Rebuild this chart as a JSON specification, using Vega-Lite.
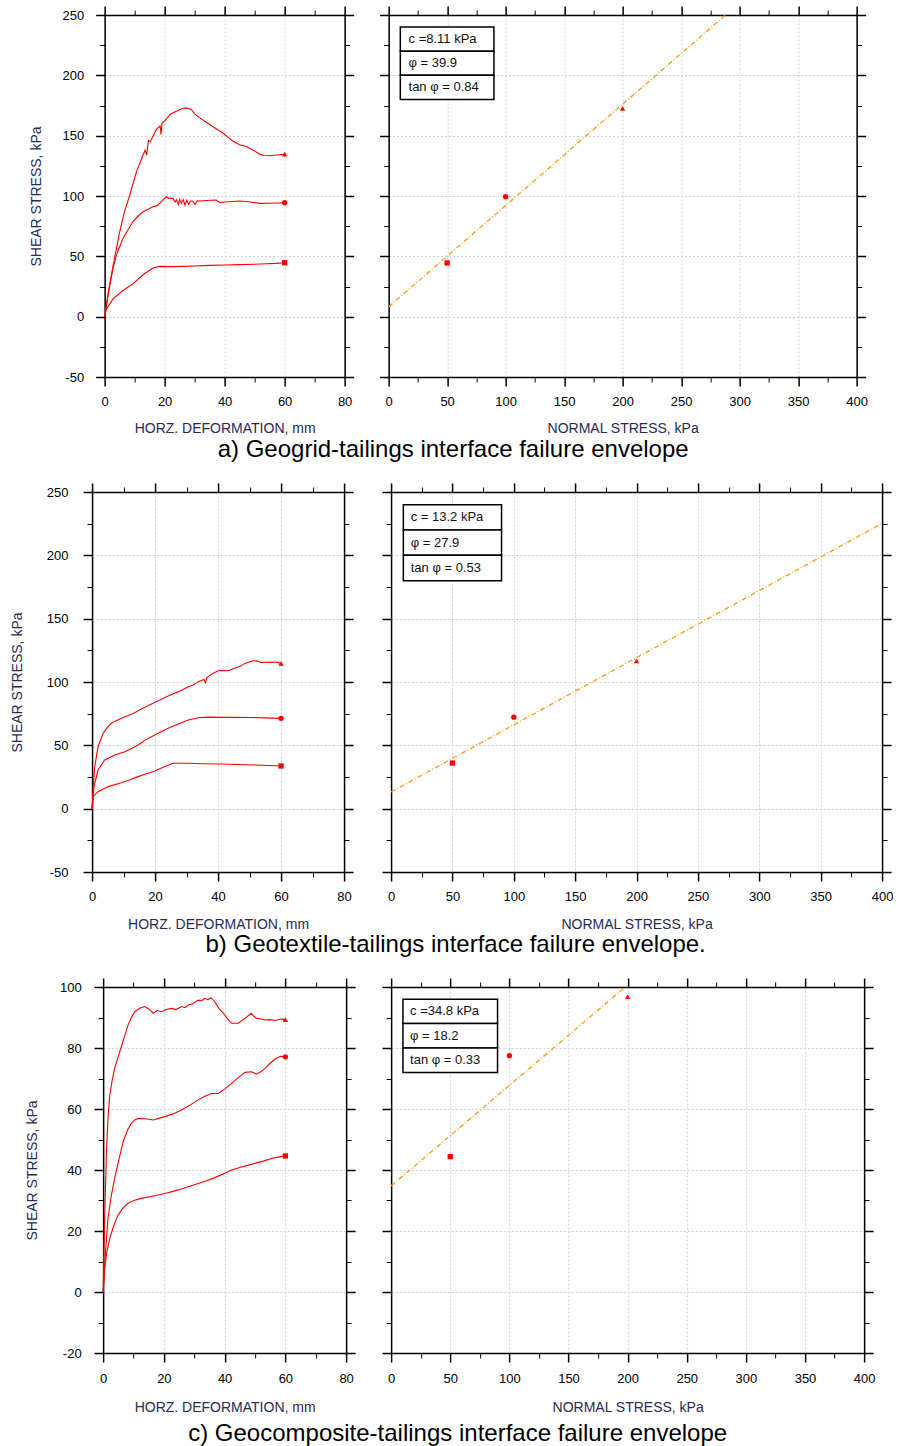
{
"$schema": "https://vega.github.io/schema/vega-lite/v6.json",
"background": "white",
"padding": {"left": 10, "top": 5, "right": 5, "bottom": 5},
"datasets": {
"curvesA": [
{"s":"200","d":0,"t":0},{"s":"200","d":1.2,"t":20},{"s":"200","d":2.8,"t":42},{"s":"200","d":5,"t":70},{"s":"200","d":6.5,"t":86},{"s":"200","d":8.3,"t":100},{"s":"200","d":10.6,"t":120},{"s":"200","d":12.8,"t":134},{"s":"200","d":13.5,"t":138},{"s":"200","d":14,"t":134},{"s":"200","d":14.6,"t":146},{"s":"200","d":15.2,"t":145},{"s":"200","d":17.2,"t":155},{"s":"200","d":18.5,"t":158},{"s":"200","d":18.8,"t":151},{"s":"200","d":19.1,"t":160},{"s":"200","d":20.6,"t":164},{"s":"200","d":22,"t":168},{"s":"200","d":23.9,"t":170.3},{"s":"200","d":26,"t":172.5},{"s":"200","d":27.2,"t":173},{"s":"200","d":28.9,"t":171.7},{"s":"200","d":30,"t":168},{"s":"200","d":31.7,"t":164.7},{"s":"200","d":35,"t":159.2},{"s":"200","d":39.4,"t":152.2},{"s":"200","d":42.8,"t":145.3},{"s":"200","d":45,"t":142.5},{"s":"200","d":47.2,"t":141.1},{"s":"200","d":49.5,"t":138},{"s":"200","d":51.7,"t":134.7},{"s":"200","d":53,"t":133.5},{"s":"200","d":55,"t":133.3},{"s":"200","d":58.3,"t":134.2},{"s":"200","d":60,"t":134.7},
{"s":"100","d":0,"t":0},{"s":"100","d":0.8,"t":12},{"s":"100","d":1.7,"t":25.8},{"s":"100","d":2.8,"t":40},{"s":"100","d":3.9,"t":50.8},{"s":"100","d":5,"t":58},{"s":"100","d":6.1,"t":64.7},{"s":"100","d":7.8,"t":72},{"s":"100","d":9.4,"t":78.6},{"s":"100","d":11,"t":83},{"s":"100","d":12.8,"t":86.9},{"s":"100","d":14.5,"t":89},{"s":"100","d":16.1,"t":91.1},{"s":"100","d":17.5,"t":92},{"s":"100","d":18.9,"t":95.3},{"s":"100","d":20,"t":98},{"s":"100","d":20.6,"t":99.4},{"s":"100","d":21.5,"t":98},{"s":"100","d":22.8,"t":98},{"s":"100","d":23.5,"t":95},{"s":"100","d":24,"t":97},{"s":"100","d":24.6,"t":93},{"s":"100","d":25,"t":97},{"s":"100","d":25.6,"t":94},{"s":"100","d":26.2,"t":97},{"s":"100","d":26.8,"t":92.5},{"s":"100","d":27.4,"t":96.5},{"s":"100","d":28,"t":93},{"s":"100","d":28.6,"t":96},{"s":"100","d":29.5,"t":95.5},{"s":"100","d":30.2,"t":93},{"s":"100","d":30.8,"t":96},{"s":"100","d":31.7,"t":95.8},{"s":"100","d":34,"t":96.3},{"s":"100","d":37.2,"t":96.7},{"s":"100","d":38.3,"t":94.7},{"s":"100","d":40,"t":95},{"s":"100","d":45,"t":95.8},{"s":"100","d":48,"t":95.2},{"s":"100","d":51.7,"t":93.9},{"s":"100","d":55,"t":94},{"s":"100","d":60,"t":94.4},
{"s":"50","d":0,"t":0},{"s":"50","d":0.6,"t":6.4},{"s":"50","d":2.8,"t":14.7},{"s":"50","d":6.1,"t":21.7},{"s":"50","d":9.4,"t":27.2},{"s":"50","d":12.8,"t":34.7},{"s":"50","d":16.1,"t":40.3},{"s":"50","d":18.3,"t":41.7},{"s":"50","d":22,"t":41.5},{"s":"50","d":26.1,"t":41.7},{"s":"50","d":30,"t":42},{"s":"50","d":35,"t":42.5},{"s":"50","d":40,"t":42.8},{"s":"50","d":45,"t":43.1},{"s":"50","d":50,"t":43.5},{"s":"50","d":53.9,"t":43.9},{"s":"50","d":57,"t":44.2},{"s":"50","d":60,"t":44.7}
],
"curvesB": [
{"s":"200","d":0,"t":0},{"s":"200","d":0.3,"t":14.7},{"s":"200","d":0.85,"t":33.2},{"s":"200","d":1.9,"t":48.9},{"s":"200","d":3.5,"t":59.5},{"s":"200","d":4.8,"t":64},{"s":"200","d":6.1,"t":67.4},{"s":"200","d":7.7,"t":69.5},{"s":"200","d":9.3,"t":71.3},{"s":"200","d":11.5,"t":73.5},{"s":"200","d":13.5,"t":75.8},{"s":"200","d":15.5,"t":78.5},{"s":"200","d":17.8,"t":81.3},{"s":"200","d":20,"t":84},{"s":"200","d":22,"t":86.3},{"s":"200","d":24,"t":88.7},{"s":"200","d":26.2,"t":91.1},{"s":"200","d":28.5,"t":93.5},{"s":"200","d":30.5,"t":96.3},{"s":"200","d":32,"t":97.5},{"s":"200","d":33.7,"t":100.3},{"s":"200","d":35.5,"t":102},{"s":"200","d":36,"t":99.5},{"s":"200","d":36.4,"t":103.5},{"s":"200","d":37.9,"t":106.1},{"s":"200","d":40,"t":108.9},{"s":"200","d":41.5,"t":109},{"s":"200","d":43.2,"t":108.9},{"s":"200","d":45.3,"t":110.8},{"s":"200","d":47,"t":112.5},{"s":"200","d":48.5,"t":114.7},{"s":"200","d":51.1,"t":116.8},{"s":"200","d":52.5,"t":116.5},{"s":"200","d":53.8,"t":115.3},{"s":"200","d":55.5,"t":115.8},{"s":"200","d":56.9,"t":115.5},{"s":"200","d":58.5,"t":115.8},{"s":"200","d":60,"t":114.7},
{"s":"100","d":0,"t":0},{"s":"100","d":0.6,"t":17.4},{"s":"100","d":1.9,"t":30.5},{"s":"100","d":4,"t":38.4},{"s":"100","d":7.2,"t":42.4},{"s":"100","d":10.4,"t":45},{"s":"100","d":12.5,"t":47.5},{"s":"100","d":14.6,"t":50.3},{"s":"100","d":17,"t":54.3},{"s":"100","d":19.9,"t":58.2},{"s":"100","d":22.5,"t":61.6},{"s":"100","d":25.2,"t":64.7},{"s":"100","d":28,"t":67.5},{"s":"100","d":30.5,"t":70},{"s":"100","d":33.7,"t":71.8},{"s":"100","d":37,"t":72.3},{"s":"100","d":41.1,"t":72.1},{"s":"100","d":45,"t":72.2},{"s":"100","d":50,"t":72},{"s":"100","d":55,"t":71.7},{"s":"100","d":60,"t":71.3},
{"s":"50","d":0,"t":0},{"s":"50","d":0.3,"t":9.5},{"s":"50","d":1.9,"t":13.4},{"s":"50","d":5.1,"t":17.4},{"s":"50","d":9.3,"t":20.5},{"s":"50","d":12,"t":22.8},{"s":"50","d":14.6,"t":25.3},{"s":"50","d":17.3,"t":27.5},{"s":"50","d":19.9,"t":29.7},{"s":"50","d":23.1,"t":33.2},{"s":"50","d":25.7,"t":35.8},{"s":"50","d":28,"t":35.9},{"s":"50","d":30.5,"t":35.8},{"s":"50","d":35,"t":35.5},{"s":"50","d":41.1,"t":35.3},{"s":"50","d":46,"t":34.9},{"s":"50","d":51.6,"t":34.5},{"s":"50","d":56,"t":34.1},{"s":"50","d":60,"t":33.7}
],
"curvesC": [
{"s":"200","d":0,"t":0},{"s":"200","d":0.5,"t":24.2},{"s":"200","d":1.1,"t":46},{"s":"200","d":1.6,"t":57},{"s":"200","d":2.2,"t":64.6},{"s":"200","d":3,"t":69.5},{"s":"200","d":3.8,"t":73.3},{"s":"200","d":4.9,"t":77},{"s":"200","d":6,"t":80.4},{"s":"200","d":7.1,"t":84},{"s":"200","d":8.2,"t":87.5},{"s":"200","d":9.3,"t":90},{"s":"200","d":10.4,"t":91.9},{"s":"200","d":12,"t":93},{"s":"200","d":13.7,"t":93.6},{"s":"200","d":15,"t":92.8},{"s":"200","d":16.5,"t":91.4},{"s":"200","d":17.8,"t":92.3},{"s":"200","d":19.2,"t":91.9},{"s":"200","d":20.8,"t":92.6},{"s":"200","d":22.5,"t":93},{"s":"200","d":24,"t":92.6},{"s":"200","d":25.8,"t":93.6},{"s":"200","d":27,"t":93.2},{"s":"200","d":28,"t":94.1},{"s":"200","d":29.5,"t":94.5},{"s":"200","d":31.3,"t":95.7},{"s":"200","d":32.5,"t":95.5},{"s":"200","d":33.5,"t":96.3},{"s":"200","d":34.5,"t":95.8},{"s":"200","d":35.5,"t":96.5},{"s":"200","d":36.5,"t":95.5},{"s":"200","d":37.4,"t":94.1},{"s":"200","d":38.5,"t":92.5},{"s":"200","d":39.6,"t":91.4},{"s":"200","d":41,"t":89.5},{"s":"200","d":42.3,"t":88.1},{"s":"200","d":44.5,"t":88.1},{"s":"200","d":46.7,"t":89.7},{"s":"200","d":48.7,"t":91.4},{"s":"200","d":49.5,"t":90.5},{"s":"200","d":50.5,"t":89.7},{"s":"200","d":52,"t":89.5},{"s":"200","d":53.3,"t":89.2},{"s":"200","d":55,"t":89.3},{"s":"200","d":56.6,"t":89},{"s":"200","d":58.5,"t":89.5},{"s":"200","d":60,"t":89.3},
{"s":"100","d":0,"t":0},{"s":"100","d":0.8,"t":13.2},{"s":"100","d":1.6,"t":24.2},{"s":"100","d":2.6,"t":31},{"s":"100","d":3.8,"t":37.3},{"s":"100","d":5.2,"t":43.5},{"s":"100","d":6.6,"t":49.3},{"s":"100","d":8,"t":53},{"s":"100","d":9.3,"t":55.3},{"s":"100","d":10.4,"t":56.4},{"s":"100","d":11.5,"t":56.9},{"s":"100","d":14,"t":56.8},{"s":"100","d":16.5,"t":56.4},{"s":"100","d":18.5,"t":57},{"s":"100","d":20.3,"t":57.5},{"s":"100","d":23,"t":58.4},{"s":"100","d":25.8,"t":59.7},{"s":"100","d":28.5,"t":61.2},{"s":"100","d":31.3,"t":63},{"s":"100","d":33.5,"t":64.2},{"s":"100","d":35.7,"t":65.1},{"s":"100","d":37.9,"t":65.1},{"s":"100","d":40,"t":66.5},{"s":"100","d":42.3,"t":68.4},{"s":"100","d":44.5,"t":70.3},{"s":"100","d":46.7,"t":72},{"s":"100","d":48.9,"t":72.2},{"s":"100","d":50.5,"t":71.4},{"s":"100","d":52,"t":72.3},{"s":"100","d":53.3,"t":73.3},{"s":"100","d":55,"t":75},{"s":"100","d":56.6,"t":76.4},{"s":"100","d":58.3,"t":77.3},{"s":"100","d":60,"t":77.1},
{"s":"50","d":0,"t":0},{"s":"50","d":0.5,"t":7.8},{"s":"50","d":1.2,"t":13},{"s":"50","d":2.2,"t":17.6},{"s":"50","d":3.5,"t":21.8},{"s":"50","d":4.9,"t":25.2},{"s":"50","d":6.5,"t":27.5},{"s":"50","d":8.2,"t":29.1},{"s":"50","d":10.4,"t":30.1},{"s":"50","d":12.6,"t":30.7},{"s":"50","d":16.5,"t":31.5},{"s":"50","d":20.3,"t":32.3},{"s":"50","d":23,"t":33},{"s":"50","d":25.8,"t":33.8},{"s":"50","d":28.5,"t":34.7},{"s":"50","d":31.3,"t":35.6},{"s":"50","d":34,"t":36.5},{"s":"50","d":36.8,"t":37.5},{"s":"50","d":39.5,"t":38.7},{"s":"50","d":42.3,"t":40},{"s":"50","d":45,"t":40.8},{"s":"50","d":47.8,"t":41.6},{"s":"50","d":51.1,"t":42.5},{"s":"50","d":53,"t":43},{"s":"50","d":55.5,"t":43.8},{"s":"50","d":58,"t":44.3},{"s":"50","d":60,"t":44.6}
],
"peakA": [{"s":"50","sn":50,"t":44.5},{"s":"100","sn":100,"t":99.4},{"s":"200","sn":200,"t":172.6}],
"peakB": [{"s":"50","sn":50,"t":36},{"s":"100","sn":100,"t":72.2},{"s":"200","sn":200,"t":116.7}],
"peakC": [{"s":"50","sn":50,"t":44.4},{"s":"100","sn":100,"t":77.5},{"s":"200","sn":200,"t":96.8}],
"envA": [{"sn":0,"t":8.11},{"sn":288,"t":250}],
"envB": [{"sn":0,"t":13.2},{"sn":400,"t":225.2}],
"envC": [{"sn":0,"t":34.8},{"sn":198,"t":100}]
},
"spacing": 20,
"center": true,
"vconcat": [
{
"spacing": 44,
"bounds": "flush",
"title": {"text": "a) Geogrid-tailings interface failure envelope", "orient": "bottom", "anchor": "middle", "offset": 3, "dx": -2},
"hconcat": [
{
"width": 240, "height": 362,
"data": {"name": "curvesA"},
"layer": [
{"mark": {"type": "line", "color": "#ff0000", "strokeWidth": 1.1},
"encoding": {
"x": {"field": "d", "type": "quantitative", "scale": {"domain": [0, 80], "nice": false, "zero": false},
"axis": {"orient": "bottom", "values": [0,10,20,30,40,50,60,70,80], "labelExpr": "datum.value % 20 === 0 ? '' + datum.value : ''", "tickSize": {"condition": {"test": "datum.value % 20 === 0", "value": 9}, "value": 5}, "tickWidth": {"condition": {"test": "datum.value % 20 === 0", "value": 1.5}, "value": 1}, "grid": true, "gridOpacity": {"condition": {"test": "datum.value % 20 === 0", "value": 1}, "value": 0}, "labelPadding": 9, "title": "HORZ. DEFORMATION, mm", "titlePadding": 13}},
"y": {"field": "t", "type": "quantitative", "scale": {"domain": [-50, 250], "nice": false, "zero": false},
"axis": {"orient": "left", "values": [-50,-25,0,25,50,75,100,125,150,175,200,225,250], "labelExpr": "datum.value % 50 === 0 ? '' + datum.value : ''", "tickSize": {"condition": {"test": "datum.value % 50 === 0", "value": 9}, "value": 5}, "tickWidth": {"condition": {"test": "datum.value % 50 === 0", "value": 1.5}, "value": 1}, "grid": true, "gridOpacity": {"condition": {"test": "datum.value % 50 === 0", "value": 1}, "value": 0}, "labelPadding": 12, "title": "SHEAR STRESS, kPa", "titlePadding": 18}},
"detail": {"field": "s"}}},
{"transform": [{"filter": "datum.d >= 60"}],
"mark": {"type": "point", "filled": true, "color": "#ff0000", "size": 28, "opacity": 1},
"encoding": {
"x": {"field": "d", "type": "quantitative", "axis": {"orient": "top", "values": [0,10,20,30,40,50,60,70,80], "labels": false, "title": null, "grid": false, "tickSize": {"condition": {"test": "datum.value % 20 === 0", "value": 9}, "value": 5}, "tickWidth": {"condition": {"test": "datum.value % 20 === 0", "value": 1.5}, "value": 1}}},
"y": {"field": "t", "type": "quantitative", "axis": {"orient": "right", "values": [-50,-25,0,25,50,75,100,125,150,175,200,225,250], "labels": false, "title": null, "grid": false, "tickSize": {"condition": {"test": "datum.value % 50 === 0", "value": 9}, "value": 5}, "tickWidth": {"condition": {"test": "datum.value % 50 === 0", "value": 1.5}, "value": 1}}},
"shape": {"field": "s", "type": "nominal", "scale": {"domain": ["50","100","200"], "range": ["square","circle","triangle-up"]}, "legend": null}}}
],
"resolve": {"axis": {"x": "independent", "y": "independent"}}
},
{
"width": 468, "height": 362,
"layer": [
{"data": {"name": "envA"},
"mark": {"type": "line", "color": "#f5a623", "strokeWidth": 1.4, "strokeDash": [5,2,1,2], "clip": true},
"encoding": {
"x": {"field": "sn", "type": "quantitative", "scale": {"domain": [0, 400], "nice": false, "zero": false},
"axis": {"orient": "bottom", "values": [0,25,50,75,100,125,150,175,200,225,250,275,300,325,350,375,400], "labelExpr": "datum.value % 50 === 0 ? '' + datum.value : ''", "tickSize": {"condition": {"test": "datum.value % 50 === 0", "value": 9}, "value": 5}, "tickWidth": {"condition": {"test": "datum.value % 50 === 0", "value": 1.5}, "value": 1}, "grid": true, "gridOpacity": {"condition": {"test": "datum.value % 50 === 0", "value": 1}, "value": 0}, "labelPadding": 9, "title": "NORMAL STRESS, kPa", "titlePadding": 13}},
"y": {"field": "t", "type": "quantitative", "scale": {"domain": [-50, 250], "nice": false, "zero": false},
"axis": {"orient": "left", "values": [-50,-25,0,25,50,75,100,125,150,175,200,225,250], "labels": false, "title": null, "tickSize": {"condition": {"test": "datum.value % 50 === 0", "value": 9}, "value": 5}, "tickWidth": {"condition": {"test": "datum.value % 50 === 0", "value": 1.5}, "value": 1}, "grid": true, "gridOpacity": {"condition": {"test": "datum.value % 50 === 0", "value": 1}, "value": 0}}}}},
{"data": {"name": "peakA"},
"mark": {"type": "point", "filled": true, "color": "#ff0000", "size": 28, "opacity": 1},
"encoding": {
"x": {"field": "sn", "type": "quantitative", "axis": {"orient": "top", "values": [0,25,50,75,100,125,150,175,200,225,250,275,300,325,350,375,400], "labels": false, "title": null, "grid": false, "tickSize": {"condition": {"test": "datum.value % 50 === 0", "value": 9}, "value": 5}, "tickWidth": {"condition": {"test": "datum.value % 50 === 0", "value": 1.5}, "value": 1}}},
"y": {"field": "t", "type": "quantitative", "axis": {"orient": "right", "values": [-50,-25,0,25,50,75,100,125,150,175,200,225,250], "labels": false, "title": " ", "titlePadding": 0, "grid": false, "tickSize": {"condition": {"test": "datum.value % 50 === 0", "value": 9}, "value": 5}, "tickWidth": {"condition": {"test": "datum.value % 50 === 0", "value": 1.5}, "value": 1}}},
"shape": {"field": "s", "type": "nominal", "scale": {"domain": ["50","100","200"], "range": ["square","circle","triangle-up"]}, "legend": null}}},
{"data": {"values": [{}]}, "mark": {"type": "rect", "fill": "white", "stroke": "#000", "strokeWidth": 1.5},
"encoding": {"x": {"datum": 10, "type": "quantitative", "axis": null}, "x2": {"datum": 90}, "y": {"datum": 240, "type": "quantitative", "axis": null}, "y2": {"datum": 220}}},
{"data": {"values": [{}]}, "mark": {"type": "rect", "fill": "white", "stroke": "#000", "strokeWidth": 1.5},
"encoding": {"x": {"datum": 10, "type": "quantitative", "axis": null}, "x2": {"datum": 90}, "y": {"datum": 220, "type": "quantitative", "axis": null}, "y2": {"datum": 200}}},
{"data": {"values": [{}]}, "mark": {"type": "rect", "fill": "white", "stroke": "#000", "strokeWidth": 1.5},
"encoding": {"x": {"datum": 10, "type": "quantitative", "axis": null}, "x2": {"datum": 90}, "y": {"datum": 200, "type": "quantitative", "axis": null}, "y2": {"datum": 180}}},
{"data": {"values": [{}]}, "mark": {"type": "text", "align": "left", "baseline": "middle", "font": "Liberation Sans", "fontSize": 13, "color": "#111"},
"encoding": {"x": {"datum": 17, "type": "quantitative", "axis": null}, "y": {"datum": 230, "type": "quantitative", "axis": null}, "text": {"value": "c =8.11 kPa"}}},
{"data": {"values": [{}]}, "mark": {"type": "text", "align": "left", "baseline": "middle", "font": "Liberation Sans", "fontSize": 13, "color": "#111"},
"encoding": {"x": {"datum": 17, "type": "quantitative", "axis": null}, "y": {"datum": 210, "type": "quantitative", "axis": null}, "text": {"value": "φ = 39.9"}}},
{"data": {"values": [{}]}, "mark": {"type": "text", "align": "left", "baseline": "middle", "font": "Liberation Sans", "fontSize": 13, "color": "#111"},
"encoding": {"x": {"datum": 17, "type": "quantitative", "axis": null}, "y": {"datum": 190, "type": "quantitative", "axis": null}, "text": {"value": "tan φ = 0.84"}}}
],
"resolve": {"axis": {"x": "independent", "y": "independent"}}
}
]
},
{
"spacing": 47,
"bounds": "flush",
"title": {"text": "b) Geotextile-tailings interface failure envelope.", "orient": "bottom", "anchor": "middle", "offset": 2, "dx": 4},
"hconcat": [
{
"width": 252, "height": 380,
"data": {"name": "curvesB"},
"layer": [
{"mark": {"type": "line", "color": "#ff0000", "strokeWidth": 1.1},
"encoding": {
"x": {"field": "d", "type": "quantitative", "scale": {"domain": [0, 80], "nice": false, "zero": false},
"axis": {"orient": "bottom", "values": [0,10,20,30,40,50,60,70,80], "labelExpr": "datum.value % 20 === 0 ? '' + datum.value : ''", "tickSize": {"condition": {"test": "datum.value % 20 === 0", "value": 9}, "value": 5}, "tickWidth": {"condition": {"test": "datum.value % 20 === 0", "value": 1.5}, "value": 1}, "grid": true, "gridOpacity": {"condition": {"test": "datum.value % 20 === 0", "value": 1}, "value": 0}, "labelPadding": 9, "title": "HORZ. DEFORMATION, mm", "titlePadding": 14}},
"y": {"field": "t", "type": "quantitative", "scale": {"domain": [-50, 250], "nice": false, "zero": false},
"axis": {"orient": "left", "values": [-50,-25,0,25,50,75,100,125,150,175,200,225,250], "labelExpr": "datum.value % 50 === 0 ? '' + datum.value : ''", "tickSize": {"condition": {"test": "datum.value % 50 === 0", "value": 9}, "value": 5}, "tickWidth": {"condition": {"test": "datum.value % 50 === 0", "value": 1.5}, "value": 1}, "grid": true, "gridOpacity": {"condition": {"test": "datum.value % 50 === 0", "value": 1}, "value": 0}, "labelPadding": 15, "title": "SHEAR STRESS, kPa", "titlePadding": 22}},
"detail": {"field": "s"}}},
{"transform": [{"filter": "datum.d >= 60"}],
"mark": {"type": "point", "filled": true, "color": "#ff0000", "size": 28, "opacity": 1},
"encoding": {
"x": {"field": "d", "type": "quantitative", "axis": {"orient": "top", "values": [0,10,20,30,40,50,60,70,80], "labels": false, "title": null, "grid": false, "tickSize": {"condition": {"test": "datum.value % 20 === 0", "value": 9}, "value": 5}, "tickWidth": {"condition": {"test": "datum.value % 20 === 0", "value": 1.5}, "value": 1}}},
"y": {"field": "t", "type": "quantitative", "axis": {"orient": "right", "values": [-50,-25,0,25,50,75,100,125,150,175,200,225,250], "labels": false, "title": null, "grid": false, "tickSize": {"condition": {"test": "datum.value % 50 === 0", "value": 9}, "value": 5}, "tickWidth": {"condition": {"test": "datum.value % 50 === 0", "value": 1.5}, "value": 1}}},
"shape": {"field": "s", "type": "nominal", "scale": {"domain": ["50","100","200"], "range": ["square","circle","triangle-up"]}, "legend": null}}}
],
"resolve": {"axis": {"x": "independent", "y": "independent"}}
},
{
"width": 491, "height": 380,
"layer": [
{"data": {"name": "envB"},
"mark": {"type": "line", "color": "#f5a623", "strokeWidth": 1.4, "strokeDash": [5,2,1,2], "clip": true},
"encoding": {
"x": {"field": "sn", "type": "quantitative", "scale": {"domain": [0, 400], "nice": false, "zero": false},
"axis": {"orient": "bottom", "values": [0,25,50,75,100,125,150,175,200,225,250,275,300,325,350,375,400], "labelExpr": "datum.value % 50 === 0 ? '' + datum.value : ''", "tickSize": {"condition": {"test": "datum.value % 50 === 0", "value": 9}, "value": 5}, "tickWidth": {"condition": {"test": "datum.value % 50 === 0", "value": 1.5}, "value": 1}, "grid": true, "gridOpacity": {"condition": {"test": "datum.value % 50 === 0", "value": 1}, "value": 0}, "labelPadding": 9, "title": "NORMAL STRESS, kPa", "titlePadding": 14}},
"y": {"field": "t", "type": "quantitative", "scale": {"domain": [-50, 250], "nice": false, "zero": false},
"axis": {"orient": "left", "values": [-50,-25,0,25,50,75,100,125,150,175,200,225,250], "labels": false, "title": null, "tickSize": {"condition": {"test": "datum.value % 50 === 0", "value": 9}, "value": 5}, "tickWidth": {"condition": {"test": "datum.value % 50 === 0", "value": 1.5}, "value": 1}, "grid": true, "gridOpacity": {"condition": {"test": "datum.value % 50 === 0", "value": 1}, "value": 0}}}}},
{"data": {"name": "peakB"},
"mark": {"type": "point", "filled": true, "color": "#ff0000", "size": 28, "opacity": 1},
"encoding": {
"x": {"field": "sn", "type": "quantitative", "axis": {"orient": "top", "values": [0,25,50,75,100,125,150,175,200,225,250,275,300,325,350,375,400], "labels": false, "title": null, "grid": false, "tickSize": {"condition": {"test": "datum.value % 50 === 0", "value": 9}, "value": 5}, "tickWidth": {"condition": {"test": "datum.value % 50 === 0", "value": 1.5}, "value": 1}}},
"y": {"field": "t", "type": "quantitative", "axis": {"orient": "right", "values": [-50,-25,0,25,50,75,100,125,150,175,200,225,250], "labels": false, "title": null, "grid": false, "tickSize": {"condition": {"test": "datum.value % 50 === 0", "value": 9}, "value": 5}, "tickWidth": {"condition": {"test": "datum.value % 50 === 0", "value": 1.5}, "value": 1}}},
"shape": {"field": "s", "type": "nominal", "scale": {"domain": ["50","100","200"], "range": ["square","circle","triangle-up"]}, "legend": null}}},
{"data": {"values": [{}]}, "mark": {"type": "rect", "fill": "white", "stroke": "#000", "strokeWidth": 1.5},
"encoding": {"x": {"datum": 10, "type": "quantitative", "axis": null}, "x2": {"datum": 90}, "y": {"datum": 240, "type": "quantitative", "axis": null}, "y2": {"datum": 220}}},
{"data": {"values": [{}]}, "mark": {"type": "rect", "fill": "white", "stroke": "#000", "strokeWidth": 1.5},
"encoding": {"x": {"datum": 10, "type": "quantitative", "axis": null}, "x2": {"datum": 90}, "y": {"datum": 220, "type": "quantitative", "axis": null}, "y2": {"datum": 200}}},
{"data": {"values": [{}]}, "mark": {"type": "rect", "fill": "white", "stroke": "#000", "strokeWidth": 1.5},
"encoding": {"x": {"datum": 10, "type": "quantitative", "axis": null}, "x2": {"datum": 90}, "y": {"datum": 200, "type": "quantitative", "axis": null}, "y2": {"datum": 180}}},
{"data": {"values": [{}]}, "mark": {"type": "text", "align": "left", "baseline": "middle", "font": "Liberation Sans", "fontSize": 13, "color": "#111"},
"encoding": {"x": {"datum": 16, "type": "quantitative", "axis": null}, "y": {"datum": 230, "type": "quantitative", "axis": null}, "text": {"value": "c = 13.2 kPa"}}},
{"data": {"values": [{}]}, "mark": {"type": "text", "align": "left", "baseline": "middle", "font": "Liberation Sans", "fontSize": 13, "color": "#111"},
"encoding": {"x": {"datum": 16, "type": "quantitative", "axis": null}, "y": {"datum": 210, "type": "quantitative", "axis": null}, "text": {"value": "φ = 27.9"}}},
{"data": {"values": [{}]}, "mark": {"type": "text", "align": "left", "baseline": "middle", "font": "Liberation Sans", "fontSize": 13, "color": "#111"},
"encoding": {"x": {"datum": 16, "type": "quantitative", "axis": null}, "y": {"datum": 190, "type": "quantitative", "axis": null}, "text": {"value": "tan φ = 0.53"}}}
],
"resolve": {"axis": {"x": "independent", "y": "independent"}}
}
]
},
{
"spacing": 45,
"bounds": "flush",
"title": {"text": "c) Geocomposite-tailings interface failure envelope", "orient": "bottom", "anchor": "middle", "offset": 8, "dx": 4},
"hconcat": [
{
"width": 243, "height": 366,
"data": {"name": "curvesC"},
"layer": [
{"mark": {"type": "line", "color": "#ff0000", "strokeWidth": 1.1},
"encoding": {
"x": {"field": "d", "type": "quantitative", "scale": {"domain": [0, 80], "nice": false, "zero": false},
"axis": {"orient": "bottom", "values": [0,10,20,30,40,50,60,70,80], "labelExpr": "datum.value % 20 === 0 ? '' + datum.value : ''", "tickSize": {"condition": {"test": "datum.value % 20 === 0", "value": 9}, "value": 5}, "tickWidth": {"condition": {"test": "datum.value % 20 === 0", "value": 1.5}, "value": 1}, "grid": true, "gridOpacity": {"condition": {"test": "datum.value % 20 === 0", "value": 1}, "value": 0}, "labelPadding": 10, "title": "HORZ. DEFORMATION, mm", "titlePadding": 15}},
"y": {"field": "t", "type": "quantitative", "scale": {"domain": [-20, 100], "nice": false, "zero": false},
"axis": {"orient": "left", "values": [-20,-10,0,10,20,30,40,50,60,70,80,90,100], "labelExpr": "datum.value % 20 === 0 ? '' + datum.value : ''", "tickSize": {"condition": {"test": "datum.value % 20 === 0", "value": 9}, "value": 5}, "tickWidth": {"condition": {"test": "datum.value % 20 === 0", "value": 1.5}, "value": 1}, "grid": true, "gridOpacity": {"condition": {"test": "datum.value % 20 === 0", "value": 1}, "value": 0}, "labelPadding": 13, "title": "SHEAR STRESS, kPa", "titlePadding": 20}},
"detail": {"field": "s"}}},
{"transform": [{"filter": "datum.d >= 60"}],
"mark": {"type": "point", "filled": true, "color": "#ff0000", "size": 28, "opacity": 1},
"encoding": {
"x": {"field": "d", "type": "quantitative", "axis": {"orient": "top", "values": [0,10,20,30,40,50,60,70,80], "labels": false, "title": null, "grid": false, "tickSize": {"condition": {"test": "datum.value % 20 === 0", "value": 9}, "value": 5}, "tickWidth": {"condition": {"test": "datum.value % 20 === 0", "value": 1.5}, "value": 1}}},
"y": {"field": "t", "type": "quantitative", "axis": {"orient": "right", "values": [-20,-10,0,10,20,30,40,50,60,70,80,90,100], "labels": false, "title": null, "grid": false, "tickSize": {"condition": {"test": "datum.value % 20 === 0", "value": 9}, "value": 5}, "tickWidth": {"condition": {"test": "datum.value % 20 === 0", "value": 1.5}, "value": 1}}},
"shape": {"field": "s", "type": "nominal", "scale": {"domain": ["50","100","200"], "range": ["square","circle","triangle-up"]}, "legend": null}}}
],
"resolve": {"axis": {"x": "independent", "y": "independent"}}
},
{
"width": 473, "height": 366,
"layer": [
{"data": {"name": "envC"},
"mark": {"type": "line", "color": "#f5a623", "strokeWidth": 1.4, "strokeDash": [5,2,1,2], "clip": true},
"encoding": {
"x": {"field": "sn", "type": "quantitative", "scale": {"domain": [0, 400], "nice": false, "zero": false},
"axis": {"orient": "bottom", "values": [0,25,50,75,100,125,150,175,200,225,250,275,300,325,350,375,400], "labelExpr": "datum.value % 50 === 0 ? '' + datum.value : ''", "tickSize": {"condition": {"test": "datum.value % 50 === 0", "value": 9}, "value": 5}, "tickWidth": {"condition": {"test": "datum.value % 50 === 0", "value": 1.5}, "value": 1}, "grid": true, "gridOpacity": {"condition": {"test": "datum.value % 50 === 0", "value": 1}, "value": 0}, "labelPadding": 10, "title": "NORMAL STRESS, kPa", "titlePadding": 15}},
"y": {"field": "t", "type": "quantitative", "scale": {"domain": [-20, 100], "nice": false, "zero": false},
"axis": {"orient": "left", "values": [-20,-10,0,10,20,30,40,50,60,70,80,90,100], "labels": false, "title": null, "tickSize": {"condition": {"test": "datum.value % 20 === 0", "value": 9}, "value": 5}, "tickWidth": {"condition": {"test": "datum.value % 20 === 0", "value": 1.5}, "value": 1}, "grid": true, "gridOpacity": {"condition": {"test": "datum.value % 20 === 0", "value": 1}, "value": 0}}}}},
{"data": {"name": "peakC"},
"mark": {"type": "point", "filled": true, "color": "#ff0000", "size": 28, "opacity": 1},
"encoding": {
"x": {"field": "sn", "type": "quantitative", "axis": {"orient": "top", "values": [0,25,50,75,100,125,150,175,200,225,250,275,300,325,350,375,400], "labels": false, "title": null, "grid": false, "tickSize": {"condition": {"test": "datum.value % 50 === 0", "value": 9}, "value": 5}, "tickWidth": {"condition": {"test": "datum.value % 50 === 0", "value": 1.5}, "value": 1}}},
"y": {"field": "t", "type": "quantitative", "axis": {"orient": "right", "values": [-20,-10,0,10,20,30,40,50,60,70,80,90,100], "labels": false, "title": " ", "titlePadding": -6, "grid": false, "tickSize": {"condition": {"test": "datum.value % 20 === 0", "value": 9}, "value": 5}, "tickWidth": {"condition": {"test": "datum.value % 20 === 0", "value": 1.5}, "value": 1}}},
"shape": {"field": "s", "type": "nominal", "scale": {"domain": ["50","100","200"], "range": ["square","circle","triangle-up"]}, "legend": null}}},
{"data": {"values": [{}]}, "mark": {"type": "rect", "fill": "white", "stroke": "#000", "strokeWidth": 1.5},
"encoding": {"x": {"datum": 10, "type": "quantitative", "axis": null}, "x2": {"datum": 90}, "y": {"datum": 96, "type": "quantitative", "axis": null}, "y2": {"datum": 88}}},
{"data": {"values": [{}]}, "mark": {"type": "rect", "fill": "white", "stroke": "#000", "strokeWidth": 1.5},
"encoding": {"x": {"datum": 10, "type": "quantitative", "axis": null}, "x2": {"datum": 90}, "y": {"datum": 88, "type": "quantitative", "axis": null}, "y2": {"datum": 80}}},
{"data": {"values": [{}]}, "mark": {"type": "rect", "fill": "white", "stroke": "#000", "strokeWidth": 1.5},
"encoding": {"x": {"datum": 10, "type": "quantitative", "axis": null}, "x2": {"datum": 90}, "y": {"datum": 80, "type": "quantitative", "axis": null}, "y2": {"datum": 72}}},
{"data": {"values": [{}]}, "mark": {"type": "text", "align": "left", "baseline": "middle", "font": "Liberation Sans", "fontSize": 13, "color": "#111"},
"encoding": {"x": {"datum": 16, "type": "quantitative", "axis": null}, "y": {"datum": 92, "type": "quantitative", "axis": null}, "text": {"value": "c =34.8 kPa"}}},
{"data": {"values": [{}]}, "mark": {"type": "text", "align": "left", "baseline": "middle", "font": "Liberation Sans", "fontSize": 13, "color": "#111"},
"encoding": {"x": {"datum": 16, "type": "quantitative", "axis": null}, "y": {"datum": 84, "type": "quantitative", "axis": null}, "text": {"value": "φ = 18.2"}}},
{"data": {"values": [{}]}, "mark": {"type": "text", "align": "left", "baseline": "middle", "font": "Liberation Sans", "fontSize": 13, "color": "#111"},
"encoding": {"x": {"datum": 16, "type": "quantitative", "axis": null}, "y": {"datum": 76, "type": "quantitative", "axis": null}, "text": {"value": "tan φ = 0.33"}}}
],
"resolve": {"axis": {"x": "independent", "y": "independent"}}
}
]
}
],
"config": {
"view": {"stroke": null},
"axis": {"domainColor": "#000", "domainWidth": 1.5, "tickColor": "#000", "labelFont": "Liberation Sans", "labelFontSize": 13, "labelColor": "#000", "labelFlush": false, "labelOverlap": false, "titleFont": "Liberation Sans", "titleFontSize": 14, "titleFontWeight": "normal", "titleColor": "#2a2a55", "gridColor": "#d0d0d0", "gridDash": [2, 2], "gridWidth": 1},
"title": {"font": "Liberation Sans", "fontSize": 24, "fontWeight": "normal", "color": "#000"}
}
}
